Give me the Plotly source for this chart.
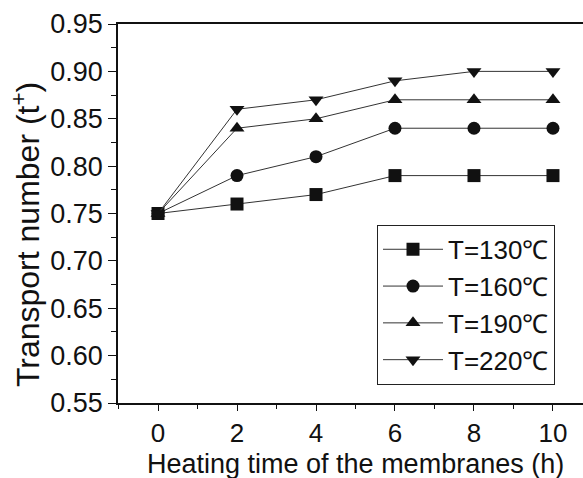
import plotly.graph_objects as go

hours = [0, 2, 4, 6, 8, 10]
series_names = ["T=130℃", "T=160℃", "T=190℃", "T=220℃"]
t130 = [0.75, 0.76, 0.77, 0.79, 0.79, 0.79]
t160 = [0.75, 0.79, 0.81, 0.84, 0.84, 0.84]
t190 = [0.75, 0.84, 0.85, 0.87, 0.87, 0.87]
t220 = [0.75, 0.86, 0.87, 0.89, 0.90, 0.90]
symbols = ["square", "circle", "triangle-up", "triangle-down"]
x_ticks = [0, 2, 4, 6, 8, 10]
y_ticks = [0.55, 0.60, 0.65, 0.70, 0.75, 0.80, 0.85, 0.90, 0.95]

FONT = "Liberation Sans, Arial, Helvetica, sans-serif"

fig = go.Figure()
for name, vals, sym in zip(series_names, [t130, t160, t190, t220], symbols):
    fig.add_trace(go.Scatter(
        x=hours, y=vals, name=name, mode="lines+markers",
        line=dict(color="#333333", width=1),
        marker=dict(symbol=sym, size=13, color="#111111"),
    ))

fig.update_layout(
    width=583, height=478,
    margin=dict(l=118, r=0, t=24, b=75),
    paper_bgcolor="white", plot_bgcolor="white",
    font=dict(family=FONT, size=24, color="#111111"),
    showlegend=True,
    legend=dict(
        x=0.557, y=0.47, xanchor="left", yanchor="top",
        bordercolor="#222222", borderwidth=1, bgcolor="white",
        font=dict(family=FONT, size=26, color="#111111"),
        itemwidth=60, tracegroupgap=0,
    ),
    xaxis=dict(
        range=[-1.013, 10.76], tickvals=x_ticks, ticks="outside",
        ticklen=6, tickwidth=1, tickcolor="#111111",
        minor=dict(dtick=1, tick0=0, ticks="outside", ticklen=4, tickcolor="#111111"),
        showline=True, linecolor="#111111", linewidth=1.5, mirror=True,
        showgrid=False, zeroline=False,
        tickfont=dict(family=FONT, size=26, color="#111111"),
    ),
    yaxis=dict(
        range=[0.55, 0.95], tickvals=y_ticks, tickformat=".2f", ticks="outside",
        ticklen=8, tickwidth=1, tickcolor="#111111",
        minor=dict(dtick=0.025, tick0=0.55, ticks="outside", ticklen=5, tickcolor="#111111"),
        showline=True, linecolor="#111111", linewidth=1.5, mirror=False,
        showgrid=False, zeroline=False,
        tickfont=dict(family=FONT, size=27, color="#111111"),
    ),
    annotations=[
        dict(
            text="Transport number (t<sup>+</sup>)", textangle=-90,
            xref="paper", yref="paper", x=0, y=0.443, xshift=-92,
            xanchor="center", yanchor="middle", showarrow=False,
            font=dict(family=FONT, size=32, color="#111111"),
        ),
        dict(
            text="Heating time of the membranes (h)",
            xref="paper", yref="paper", x=0.51, y=0, yshift=-61,
            xanchor="center", yanchor="middle", showarrow=False,
            font=dict(family=FONT, size=27, color="#111111"),
        ),
    ],
)

fig.write_html("out.html")
